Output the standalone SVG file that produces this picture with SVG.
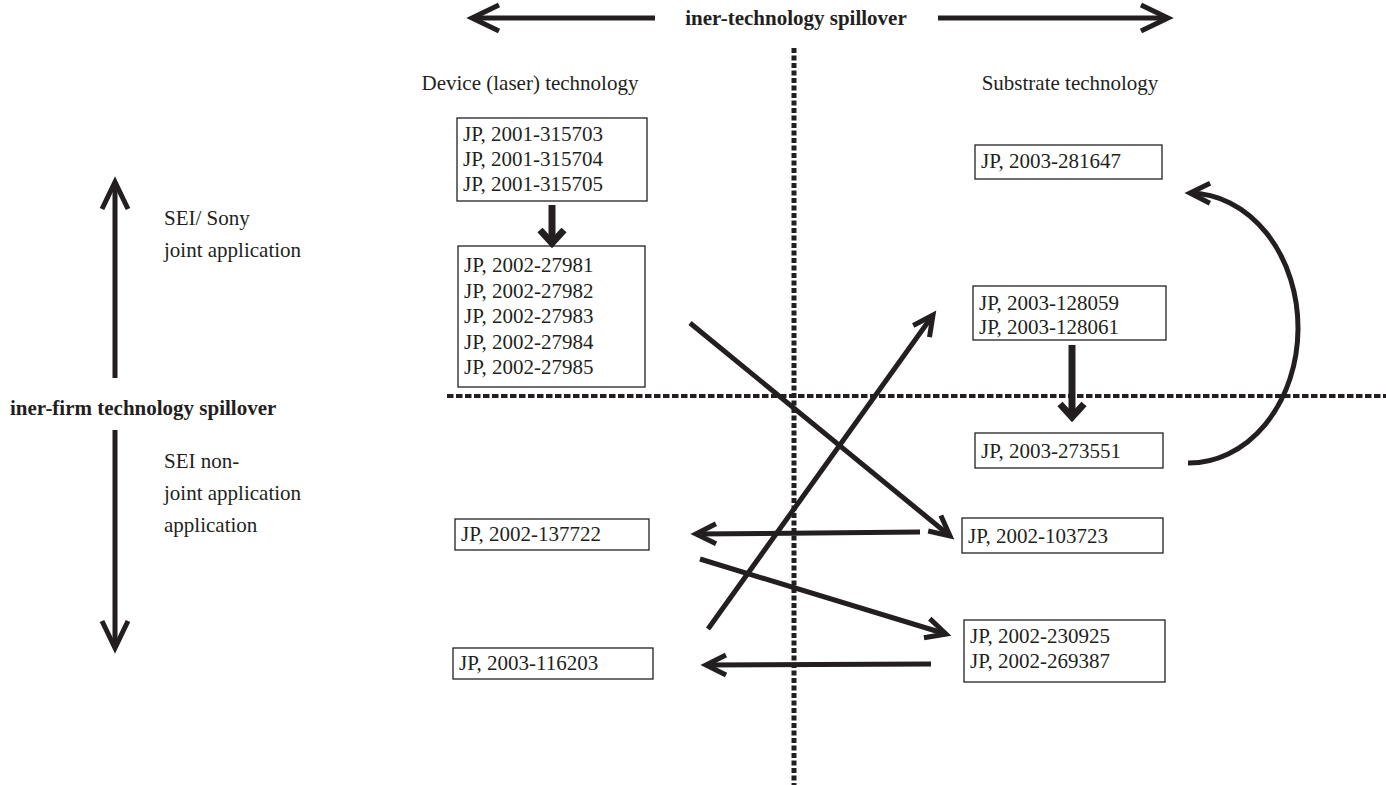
<svg xmlns="http://www.w3.org/2000/svg" width="1386" height="785" viewBox="0 0 1386 785">
<style>
text{font-family:"Liberation Serif","Times New Roman",serif;font-size:21px;fill:#231f20}
.b{font-weight:bold}
.box{fill:#fff;stroke:#231f20;stroke-width:1.3}
.ln{stroke:#231f20;stroke-width:5;fill:none}
.lb{stroke:#231f20;stroke-width:7;fill:none}
.dv{stroke:#231f20;stroke-width:5;stroke-dasharray:5 2.5;fill:none}
.dh{stroke:#231f20;stroke-width:4;stroke-dasharray:6.5 2.5;fill:none}
</style>
<defs>
<marker id="ah" markerUnits="userSpaceOnUse" orient="auto" overflow="visible" markerWidth="1" markerHeight="1"><path d="M-20,-10 L0,0 L-20,10" fill="none" stroke="#231f20" stroke-width="5"/></marker>
<marker id="ahb" markerUnits="userSpaceOnUse" orient="auto" overflow="visible" markerWidth="1" markerHeight="1"><path d="M-13,-12 L0,0 L-13,12" fill="none" stroke="#231f20" stroke-width="7"/></marker>
<marker id="ahl" markerUnits="userSpaceOnUse" orient="auto" overflow="visible" markerWidth="1" markerHeight="1"><path d="M-27,-13 L0,0 L-27,13" fill="none" stroke="#231f20" stroke-width="5"/></marker>
</defs>
<g id="axes">
<line class="dv" x1="794" y1="48" x2="794" y2="785"/>
<line class="dh" x1="447" y1="396" x2="1386" y2="396"/>
<line class="ln" x1="655" y1="18" x2="472" y2="18" marker-end="url(#ahl)"/>
<line class="ln" x1="938" y1="18" x2="1168" y2="18" marker-end="url(#ahl)"/>
<text class="b" x="796" y="25" text-anchor="middle">iner-technology spillover</text>
<line class="ln" x1="115" y1="378" x2="115" y2="182" marker-end="url(#ahl)"/>
<line class="ln" x1="115" y1="430" x2="115" y2="648" marker-end="url(#ahl)"/>
<text class="b" x="10" y="415">iner-firm technology spillover</text>
<text x="164" y="225">SEI/ Sony</text>
<text x="164" y="257">joint application</text>
<text x="164" y="468">SEI non-</text>
<text x="164" y="500">joint application</text>
<text x="164" y="532">application</text>
<text x="530" y="90" text-anchor="middle">Device (laser) technology</text>
<text x="1070" y="90" text-anchor="middle">Substrate technology</text>
</g>
<g id="n1"><rect class="box" x="457" y="118" width="190" height="83"/><text x="463" y="141">JP, 2001-315703</text><text x="463" y="166">JP, 2001-315704</text><text x="463" y="191">JP, 2001-315705</text></g>
<g id="n2"><rect class="box" x="458" y="246" width="187" height="141"/><text x="464" y="272">JP, 2002-27981</text><text x="464" y="297.5">JP, 2002-27982</text><text x="464" y="323">JP, 2002-27983</text><text x="464" y="348.5">JP, 2002-27984</text><text x="464" y="374">JP, 2002-27985</text></g>
<g id="n3"><rect class="box" x="455" y="519" width="194" height="31"/><text x="461" y="541">JP, 2002-137722</text></g>
<g id="n4"><rect class="box" x="453" y="648" width="200" height="31"/><text x="459" y="670">JP, 2003-116203</text></g>
<g id="n5"><rect class="box" x="975" y="145" width="187" height="34"/><text x="981" y="168">JP, 2003-281647</text></g>
<g id="n6"><rect class="box" x="973" y="286" width="193" height="54"/><text x="979" y="310">JP, 2003-128059</text><text x="979" y="334">JP, 2003-128061</text></g>
<g id="n7"><rect class="box" x="975" y="433" width="188" height="35"/><text x="981" y="458">JP, 2003-273551</text></g>
<g id="n8"><rect class="box" x="962" y="518" width="201" height="35"/><text x="968" y="543">JP, 2002-103723</text></g>
<g id="n9"><rect class="box" x="964" y="620" width="201" height="62"/><text x="970" y="643">JP, 2002-230925</text><text x="970" y="668">JP, 2002-269387</text></g>
<g id="connectors">
<line class="lb" x1="552" y1="205" x2="552" y2="243" marker-end="url(#ahb)"/>
<line class="lb" x1="1072" y1="345" x2="1072" y2="417" marker-end="url(#ahb)"/>
<line class="ln" x1="690" y1="323" x2="950" y2="536" marker-end="url(#ah)"/>
<line class="ln" x1="708" y1="629" x2="933" y2="315" marker-end="url(#ah)"/>
<line class="ln" x1="920" y1="532" x2="696" y2="534" marker-end="url(#ah)"/>
<line class="ln" x1="700" y1="559" x2="946" y2="634" marker-end="url(#ah)"/>
<line class="ln" x1="931" y1="664" x2="706" y2="665" marker-end="url(#ah)"/>
<path class="ln" d="M1188,463 A109,135 0 0 0 1190,193" marker-end="url(#ah)"/>
</g>
</svg>
